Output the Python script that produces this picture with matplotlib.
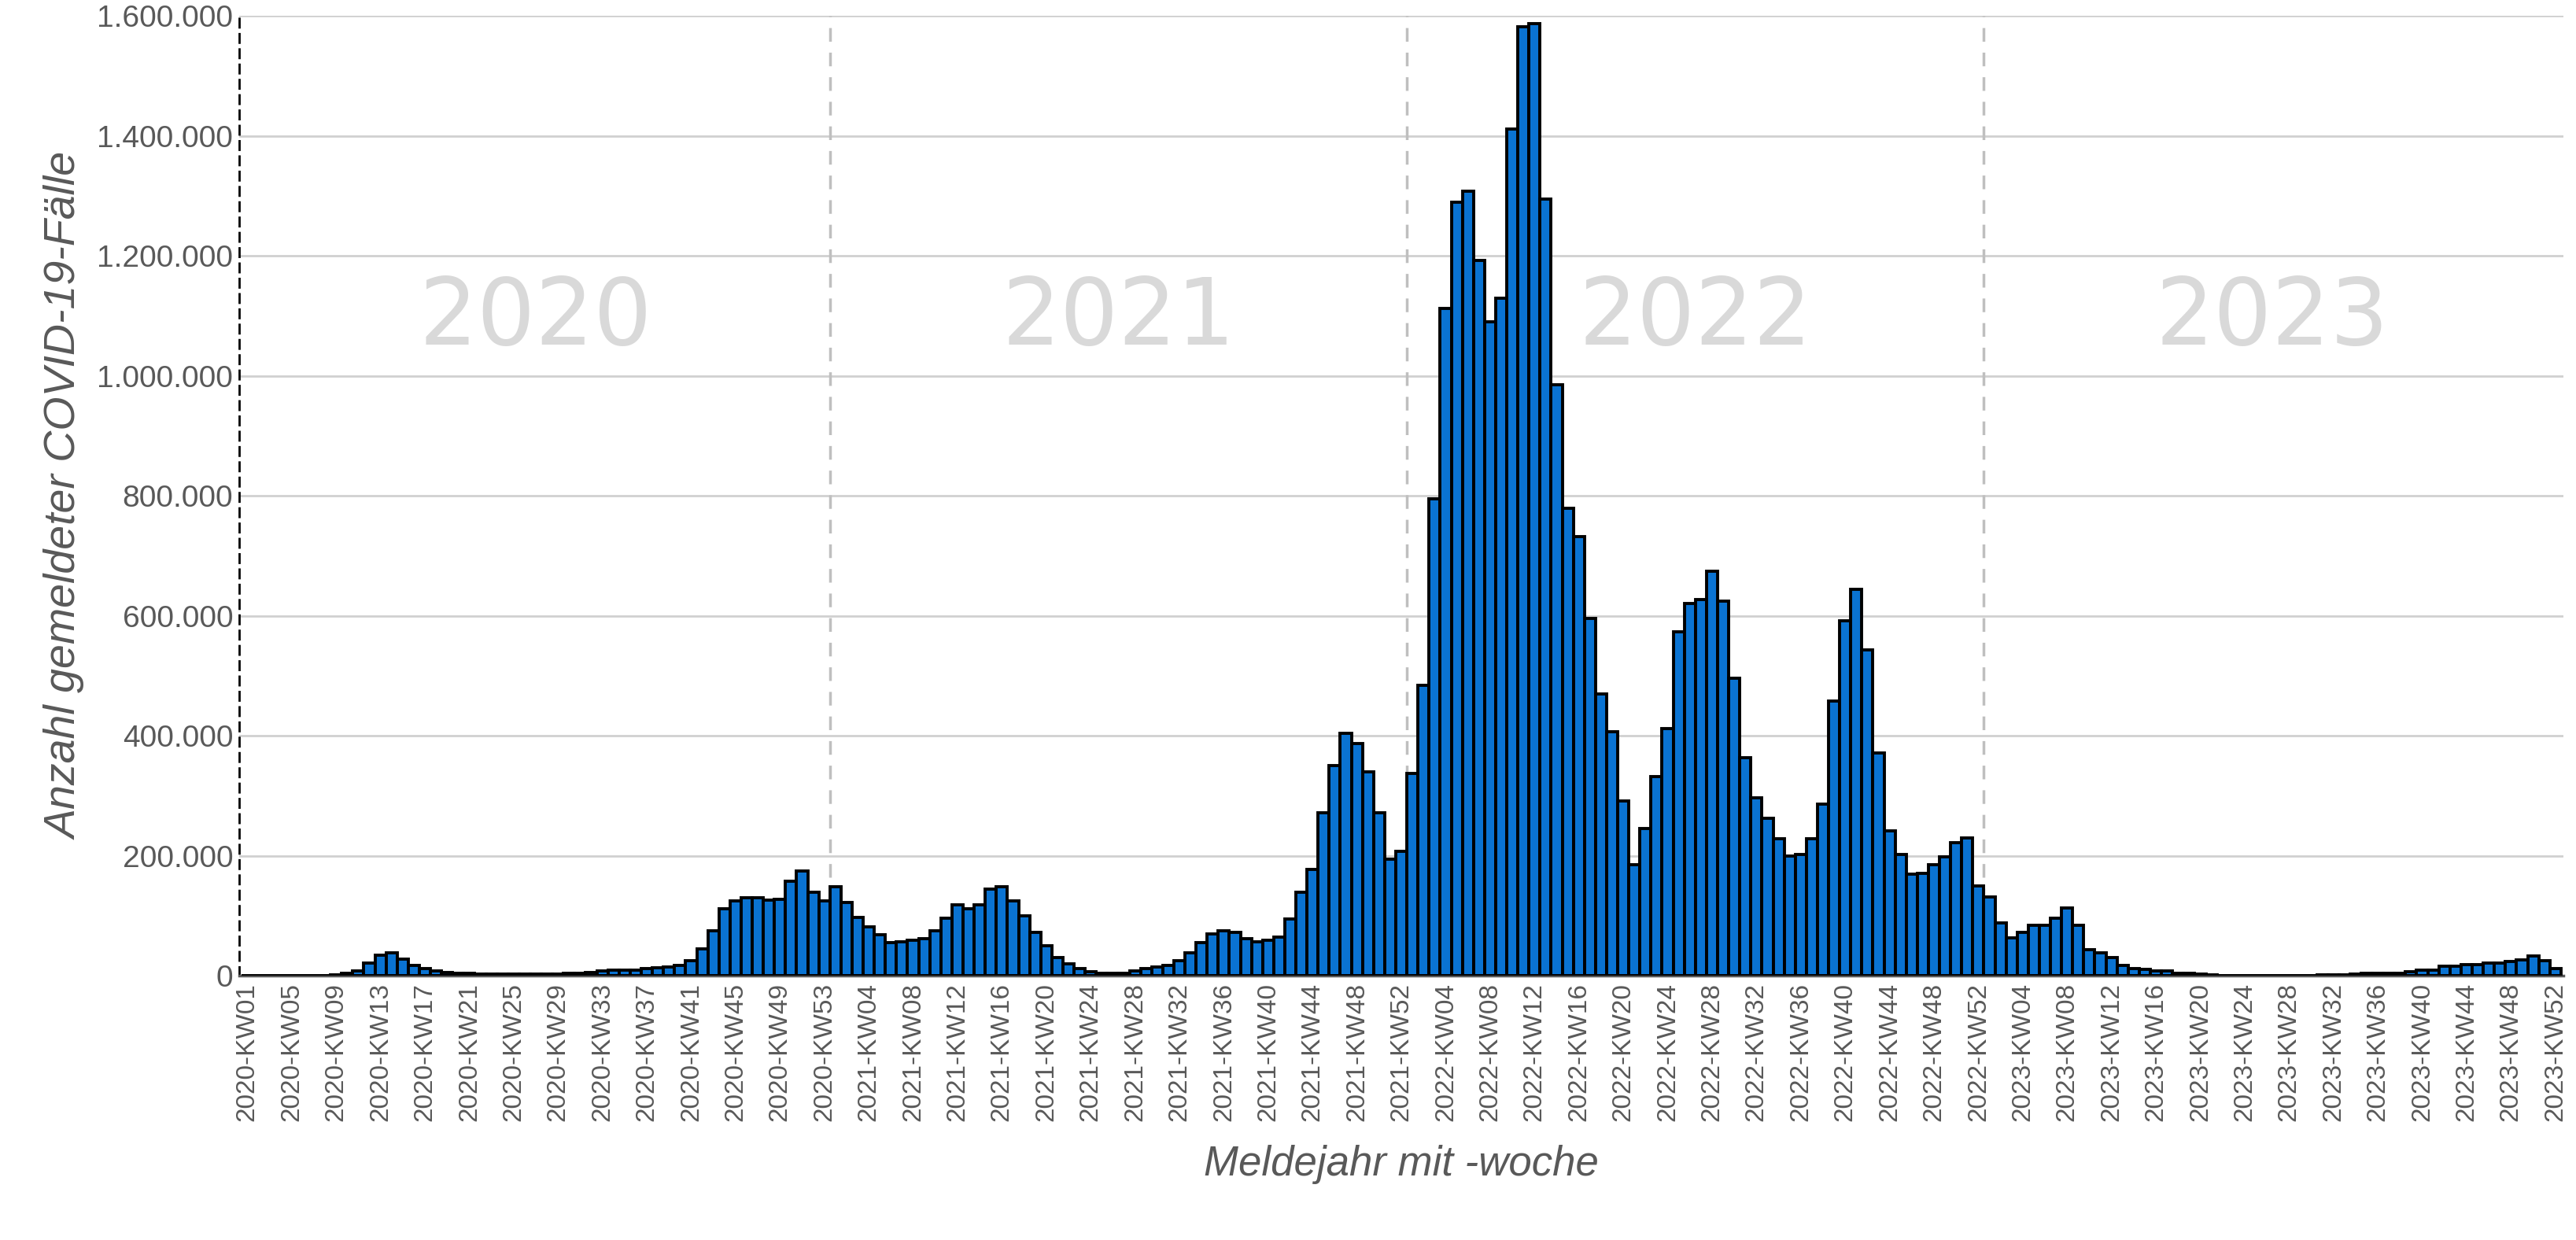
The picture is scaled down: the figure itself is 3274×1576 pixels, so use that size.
import matplotlib
matplotlib.use("Agg")
import matplotlib.pyplot as plt
from matplotlib.ticker import FuncFormatter

cases_2020 = [100, 100, 150, 200, 300, 400, 600, 1000, 2000, 4000, 8000, 22000, 35000, 38000,
              28000, 18000, 12000, 8000, 6000, 5000, 4000, 3000, 3000, 2500, 3000, 2500, 3000,
              3000, 3000, 4000, 5000, 6000, 8000, 10000, 9000, 9000, 12000, 14000, 15000, 18000,
              25000, 45000, 75000, 112000, 125000, 130000, 130000, 126000, 128000, 158000, 175000,
              140000, 125000]
cases_2021 = [148000, 122000, 98000, 82000, 68000, 55000, 57000, 60000, 62000, 75000, 96000,
              118000, 112000, 118000, 145000, 148000, 125000, 100000, 72000, 50000, 30000, 20000,
              12000, 7000, 5000, 4000, 5000, 8000, 12000, 15000, 18000, 25000, 38000, 55000, 70000,
              75000, 72000, 62000, 57000, 60000, 65000, 95000, 140000, 178000, 272000, 350000,
              405000, 387000, 340000, 272000, 195000, 208000]
cases_2022 = [338000, 484000, 795000, 1113000, 1290000, 1308000, 1193000, 1090000, 1130000,
              1412000, 1582000, 1587000, 1295000, 985000, 779000, 732000, 596000, 470000, 407000,
              292000, 185000, 246000, 332000, 412000, 574000, 621000, 627000, 674000, 625000,
              496000, 364000, 297000, 263000, 228000, 200000, 202000, 228000, 286000, 458000,
              592000, 645000, 544000, 372000, 242000, 202000, 169000, 171000, 185000, 199000,
              222000, 230000, 150000]
cases_2023 = [131000, 88000, 63000, 73000, 85000, 85000, 96000, 113000, 85000, 44000, 38000,
              31000, 18000, 12000, 11000, 8000, 8000, 5000, 5000, 3000, 2000, 1000, 1000, 1000,
              1000, 1000, 1000, 1000, 1000, 1000, 1500, 2000, 2000, 3000, 4000, 5000, 5000, 5000,
              7000, 10000, 10000, 16000, 16000, 19000, 19000, 22000, 22000, 24000, 26000, 33000,
              25000, 12000]
years = [2020, 2021, 2022, 2023]
series = [cases_2020, cases_2021, cases_2022, cases_2023]

labels, values = [], []
for y, s in zip(years, series):
    for i, v in enumerate(s):
        labels.append(f"{y}-KW{i+1:02d}")
        values.append(v)

plt.rcParams['font.family'] = ['Liberation Sans', 'DejaVu Sans']
fig = plt.figure(figsize=(32.74, 15.76), dpi=100)
ax = fig.add_axes([0.093, 0.213, 0.902, 0.774])

x = list(range(len(values)))
ax.bar(x, values, width=1.0, color='#0A73D2', edgecolor='black', linewidth=2.8, zorder=3)

ax.set_ylim(0, 1600000)
ax.set_xlim(-0.7, len(values) - 0.3)
ax.set_yticks(range(0, 1600001, 200000))
ax.yaxis.set_major_formatter(FuncFormatter(lambda v, p: f"{int(v):,}".replace(",", ".")))
ax.grid(axis='y', color='#d0d0d0', linewidth=2, zorder=0)

ax.set_xticks(x[::4])
ax.set_xticklabels(labels[::4], rotation=90)
ax.tick_params(axis='x', labelsize=24, colors='#595959', length=0, pad=6)
ax.tick_params(axis='y', labelsize=28, colors='#595959', length=0, pad=6)

start = 0
for y, s in zip(years, series):
    end = start + len(s)
    if end < len(values):
        ax.axvline(end - 0.5, color='#bfbfbf', linestyle=(0, (5, 4)), linewidth=2.5, zorder=2)
    ax.text((start + end - 1) / 2, 1095000, str(y), ha='center', va='center',
            fontsize=84, color='#d9d9d9', family=['DejaVu Sans'], zorder=1)
    start = end

for sp in ['top', 'right']:
    ax.spines[sp].set_visible(False)
ax.spines['left'].set_color('black')
ax.spines['left'].set_linestyle((0, (4, 3)))
ax.spines['left'].set_linewidth(2)
ax.spines['bottom'].set_color('#595959')
ax.spines['bottom'].set_linewidth(2.5)

ax.set_ylabel("Anzahl gemeldeter COVID-19-Fälle", fontsize=40, style='italic', color='#595959', labelpad=10)
ax.set_xlabel("Meldejahr mit -woche", fontsize=38, style='italic', color='#595959', labelpad=22)

fig.savefig("out.png", dpi=100)
